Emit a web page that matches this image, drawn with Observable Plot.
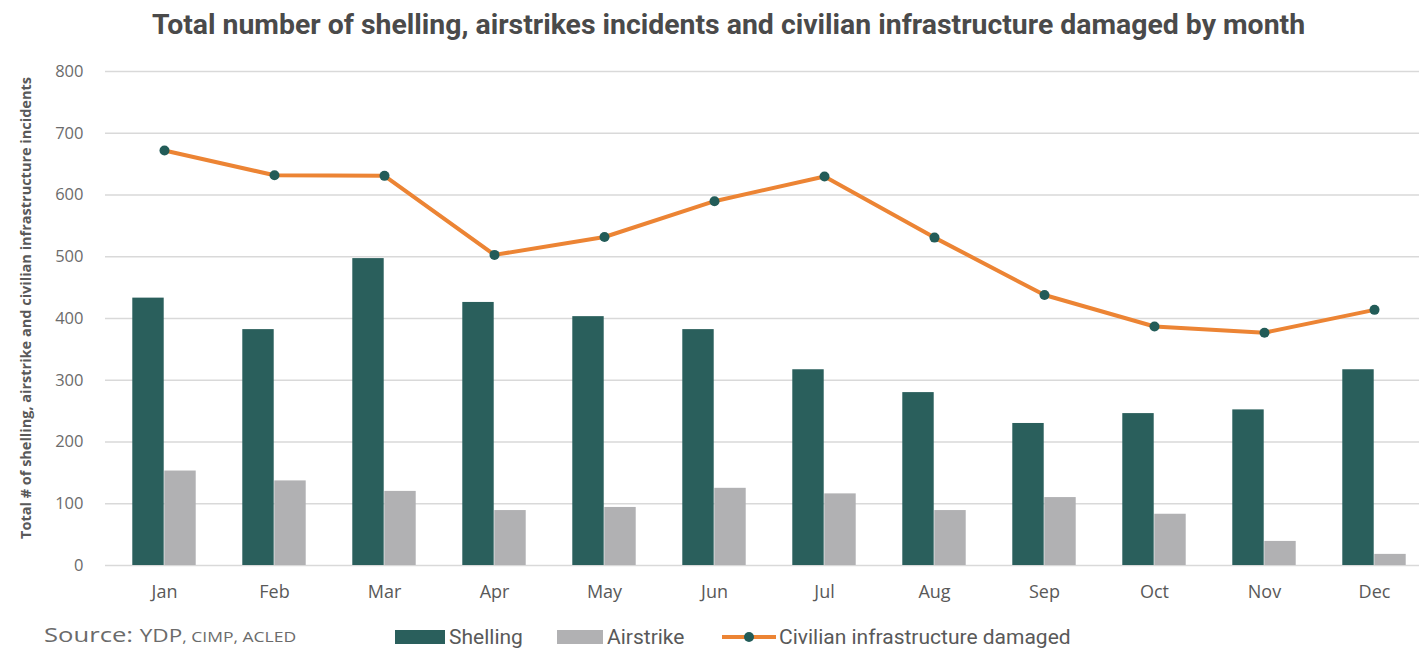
<!DOCTYPE html>
<html>
<head>
<meta charset="utf-8">
<script src="https://cdn.jsdelivr.net/npm/d3@7"></script>
<script src="https://cdn.jsdelivr.net/npm/@observablehq/plot@0.6"></script>
<style>
  html, body { margin: 0; padding: 0; background: #fff; width: 1419px; height: 649px; overflow: hidden; }
  #wrap { position: relative; width: 1419px; height: 649px; overflow: hidden; }
  #title { position: absolute; left: 0; width: 1457px; top: 8px; text-align: center; font-family: "Roboto", sans-serif; font-weight: bold; font-size: 28.4px; color: #4a4a4a; white-space: nowrap; }
  #chart { position: absolute; left: 0; top: 0; width: 1432px; }
  #chart svg { max-width: none !important; }
  #ytitle { position: absolute; left: 25px; top: 308px; transform: translate(-50%, -50%) rotate(-90deg); font-family: "Open Sans", sans-serif; font-weight: bold; font-size: 14.5px; color: #595959; white-space: nowrap; }
  #source { position: absolute; left: 44px; top: 621px; height: 26px; line-height: 26px; font-family: "Open Sans", sans-serif; color: #6b6b6b; white-space: nowrap; transform: scaleX(1.25); transform-origin: left center; }
  #source .big { font-size: 20.5px; }
  #source .mid { font-size: 18px; }
  #source .small { font-size: 14px; }
  .leg { position: absolute; top: 626px; height: 22px; line-height: 22px; font-family: "Roboto", sans-serif; font-size: 21px; color: #595959; white-space: nowrap; display: flex; align-items: center; }
  .sw { display: inline-block; width: 50px; height: 14px; margin-right: 4px; }
</style>
</head>
<body>
<div id="wrap">
  <div id="chart"></div>
  <div id="title">Total number of shelling, airstrikes incidents and civilian infrastructure damaged by month</div>
  <div id="ytitle">Total # of shelling, airstrike and civilian infrastructure incidents</div>
  <div id="source"><span class="big">Source: </span><span class="mid">YDP</span><span class="small">, CIMP, ACLED</span></div>
  <div class="leg" style="left:395px"><span class="sw" style="background:#2a5f5c"></span>Shelling</div>
  <div class="leg" style="left:557px"><span class="sw" style="background:#b1b1b3;width:46px"></span>Airstrike</div>
  <div class="leg" style="left:722px"><svg width="54" height="14" style="margin-right:3px"><line x1="0" y1="7" x2="54" y2="7" stroke="#ec8434" stroke-width="4"/><circle cx="27" cy="7" r="5" fill="#225c58"/></svg>Civilian infrastructure damaged</div>
</div>
<script>
const months = ["Jan","Feb","Mar","Apr","May","Jun","Jul","Aug","Sep","Oct","Nov","Dec"];
const shelling = [433, 382, 497, 426, 403, 382, 317, 280, 230, 246, 252, 317];
const airstrike = [153, 137, 120, 89, 94, 125, 116, 89, 110, 83, 39, 18];
const damaged = [672, 632, 631, 503, 532, 590, 630, 531, 438, 387, 377, 414];
const yTicks = [0, 100, 200, 300, 400, 500, 600, 700, 800];

const shellData = months.map((m, i) => ({month: m, value: shelling[i]}));
const airData = months.map((m, i) => ({month: m, value: airstrike[i]}));
const lineData = months.map((m, i) => ({month: m, value: damaged[i]}));

const W = 1432, ML = 105, MR = 0;
const band = (W - ML - MR) / months.length;
const barW = 32;
const outer = band / 2 - barW;

const chart = Plot.plot({
  width: W,
  height: 605,
  marginLeft: ML,
  marginRight: MR,
  marginTop: 71,
  marginBottom: 40,
  style: {fontFamily: "'Open Sans', sans-serif", background: "transparent", overflow: "visible", maxWidth: "none"},
  x: {domain: months, padding: 0},
  y: {domain: [0, 800]},
  marks: [
    Plot.gridY(yTicks, {stroke: "#d9d9d9", strokeOpacity: 1, strokeWidth: 1.5}),
    Plot.axisY(yTicks, {tickSize: 0, tickPadding: 22, fontSize: 16.5, color: "#6b6b6b", label: null}),
    Plot.axisX({tickSize: 0, tickPadding: 20, fontSize: 18, color: "#595959", label: null}),
    Plot.barY(shellData, {x: "month", y: "value", fill: "#2a5f5c", insetLeft: outer, insetRight: band / 2}),
    Plot.barY(airData, {x: "month", y: "value", fill: "#b1b1b3", insetLeft: band / 2, insetRight: outer}),
    Plot.line(lineData, {x: "month", y: "value", stroke: "#ec8434", strokeWidth: 4}),
    Plot.dot(lineData, {x: "month", y: "value", r: 5, fill: "#225c58", stroke: "none"})
  ]
});
document.getElementById("chart").appendChild(chart);
</script>
</body>
</html>
